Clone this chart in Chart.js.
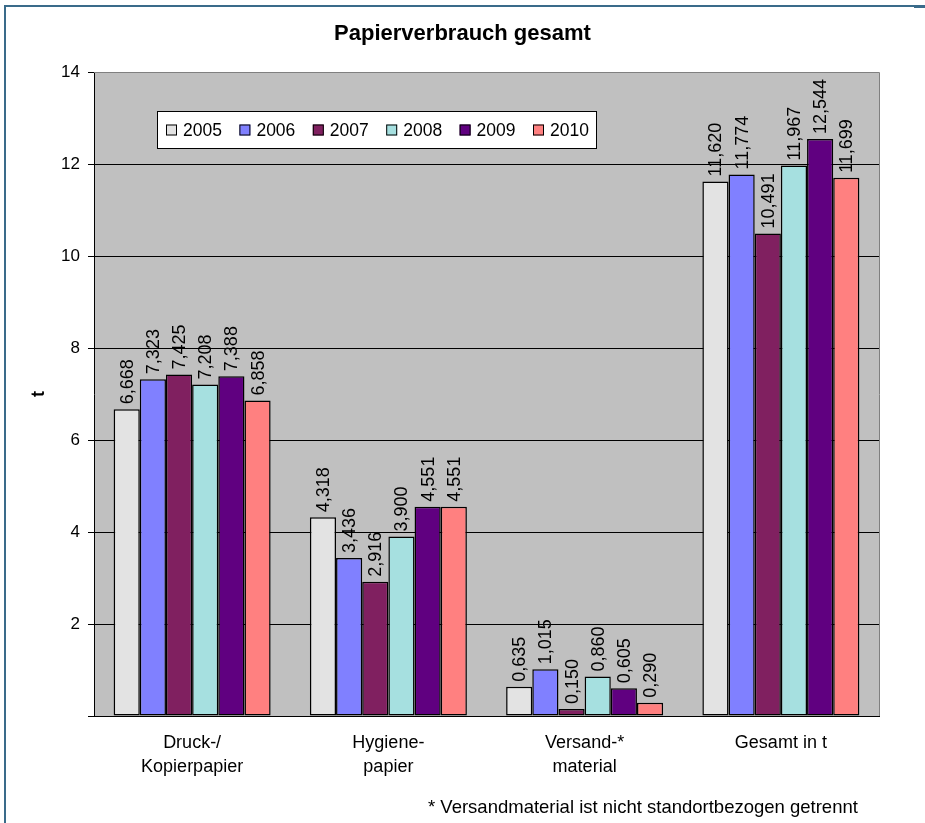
<!DOCTYPE html>
<html>
<head>
<meta charset="utf-8">
<script src="https://cdn.jsdelivr.net/npm/chart.js@4/dist/chart.umd.min.js"></script>
<style>
  html, body { margin: 0; padding: 0; background: #ffffff; }
  #wrap { position: relative; width: 925px; height: 823px; overflow: hidden; }
  #frame { position: absolute; left: 4px; top: 5px; width: 910px; height: 830px;
           border-top: 2px solid #3A6B8A; border-left: 2px solid #3A6B8A; }
  #frameTab { position: absolute; left: 914px; top: 5px; width: 11px; height: 3px; background: #3A6B8A; }
  #title { position: absolute; left: 0; top: 20px; width: 925px; text-align: center;
           font: bold 22px "Liberation Sans", Arial, sans-serif; line-height: 26px; color: #000; }
  #note { position: absolute; left: 428px; top: 796px; white-space: nowrap;
          font: 18.5px "Liberation Sans", Arial, sans-serif; line-height: 22px; color: #000; }
  canvas { position: absolute; left: 0; top: 0; }
</style>
</head>
<body>
<div id="wrap">
  <div id="frame"></div>
  <div id="frameTab"></div>
  <canvas id="c" width="925" height="823"></canvas>
  <div id="title">Papierverbrauch gesamt</div>
  <div id="note">* Versandmaterial ist nicht standortbezogen getrennt</div>
</div>
<script>
// ---- data ----
const categories = [['Druck-/', 'Kopierpapier'], ['Hygiene-', 'papier'], ['Versand-*', 'material'], 'Gesamt in t'];
const years = ['2005', '2006', '2007', '2008', '2009', '2010'];
const values2005 = [6.668, 4.318, 0.635, 11.620];
const values2006 = [7.323, 3.436, 1.015, 11.774];
const values2007 = [7.425, 2.916, 0.150, 10.491];
const values2008 = [7.208, 3.900, 0.860, 11.967];
const values2009 = [7.388, 4.551, 0.605, 12.544];
const values2010 = [6.858, 4.551, 0.290, 11.699];
const yTickValues = [0, 2, 4, 6, 8, 10, 12, 14];

// ---- styles ----
const palette = ['#E3E3E3', '#8080FF', '#802060', '#A6E0E0', '#600080', '#FF8080'];
const FONT = '"Liberation Sans", Arial, sans-serif';
const seriesValues = [values2005, values2006, values2007, values2008, values2009, values2010];

const datasets = years.map((y, i) => ({
  label: y,
  data: seriesValues[i],
  backgroundColor: palette[i],
  borderColor: '#000000',
  borderWidth: 1.5,
  borderSkipped: false,
  categoryPercentage: 0.8,
  barPercentage: 1.0
}));

const fmt = v => v.toFixed(3).replace('.', ',');

const plotPlugin = {
  id: 'plotDeco',
  beforeDraw(chart) {
    const { ctx, chartArea: a } = chart;
    ctx.save();
    ctx.fillStyle = '#C0C0C0';
    ctx.fillRect(a.left, a.top, a.right - a.left, a.bottom - a.top);
    ctx.restore();
  },
  beforeDatasetsDraw(chart) {
    const { ctx, chartArea: a } = chart;
    ctx.save();
    ctx.strokeStyle = '#808080';
    ctx.lineWidth = 1;
    ctx.beginPath();
    ctx.moveTo(a.left, a.top + 0.5);
    ctx.lineTo(a.right + 0.5, a.top + 0.5);
    ctx.lineTo(a.right + 0.5, a.bottom);
    ctx.stroke();
    ctx.restore();
  },
  afterDatasetsDraw(chart) {
    const ctx = chart.ctx;
    ctx.save();
    ctx.font = '18px ' + FONT;
    ctx.fillStyle = '#000';
    ctx.textAlign = 'left';
    ctx.textBaseline = 'middle';
    chart.data.datasets.forEach((ds, i) => {
      chart.getDatasetMeta(i).data.forEach((bar, j) => {
        ctx.save();
        ctx.translate(bar.x + 1, bar.y - 5);
        ctx.rotate(-Math.PI / 2);
        ctx.fillText(fmt(ds.data[j]), 0, 0);
        ctx.restore();
      });
    });
    ctx.restore();
  },
  afterDraw(chart) {
    // legend box inside plot area
    const ctx = chart.ctx;
    const L = 157, T = 111, R = 597, B = 149;
    ctx.save();
    ctx.fillStyle = '#ffffff';
    ctx.fillRect(L, T, R - L, B - T);
    ctx.strokeStyle = '#000';
    ctx.lineWidth = 1;
    ctx.strokeRect(L + 0.5, T + 0.5, R - L - 1, B - T - 1);
    ctx.font = '17.5px ' + FONT;
    ctx.textAlign = 'left';
    ctx.textBaseline = 'middle';
    const cy = (T + B) / 2;
    chart.data.datasets.forEach((ds, i) => {
      const bx = 166 + i * 73.4;
      ctx.fillStyle = ds.backgroundColor;
      ctx.fillRect(bx, cy - 5.5, 11, 11);
      ctx.strokeStyle = '#000';
      ctx.strokeRect(bx + 0.5, cy - 5.5 + 0.5, 10, 10);
      ctx.fillStyle = '#000';
      ctx.fillText(ds.label, bx + 17, cy + 1);
    });
    ctx.restore();
  }
};

new Chart(document.getElementById('c'), {
  type: 'bar',
  data: { labels: categories, datasets },
  options: {
    responsive: false,
    animation: false,
    layout: { padding: { top: 72, right: 46, bottom: 0, left: 0 } },
    plugins: { legend: { display: false }, title: { display: false }, tooltip: { enabled: false } },
    scales: {
      x: {
        grid: { display: false },
        border: { display: true, color: '#000', width: 1 },
        ticks: { color: '#000', font: { family: FONT, size: 18, lineHeight: 1.333 }, padding: 7,
                 maxRotation: 0, autoSkip: false },
        afterFit(s) { s.height = 107; }
      },
      y: {
        min: yTickValues[0],
        max: yTickValues[yTickValues.length - 1],
        afterBuildTicks(s) { s.ticks = yTickValues.map(v => ({ value: v })); },
        grid: {
          color: c => (c.tick && c.tick.value === yTickValues[yTickValues.length - 1]) ? '#808080' : '#000',
          tickColor: '#000',
          tickLength: 6,
          lineWidth: 1
        },
        border: { display: true, color: '#000', width: 1 },
        ticks: { color: '#000', font: { family: FONT, size: 17 }, padding: 8,
                 callback: v => v === 0 ? '' : String(v) },
        title: { display: true, text: 't', color: '#000',
                 font: { family: FONT, size: 18, weight: 'bold' }, padding: { top: 28, bottom: 0 } },
        afterFit(s) { s.width = 94; }
      }
    }
  },
  plugins: [plotPlugin]
});
</script>
</body>
</html>
